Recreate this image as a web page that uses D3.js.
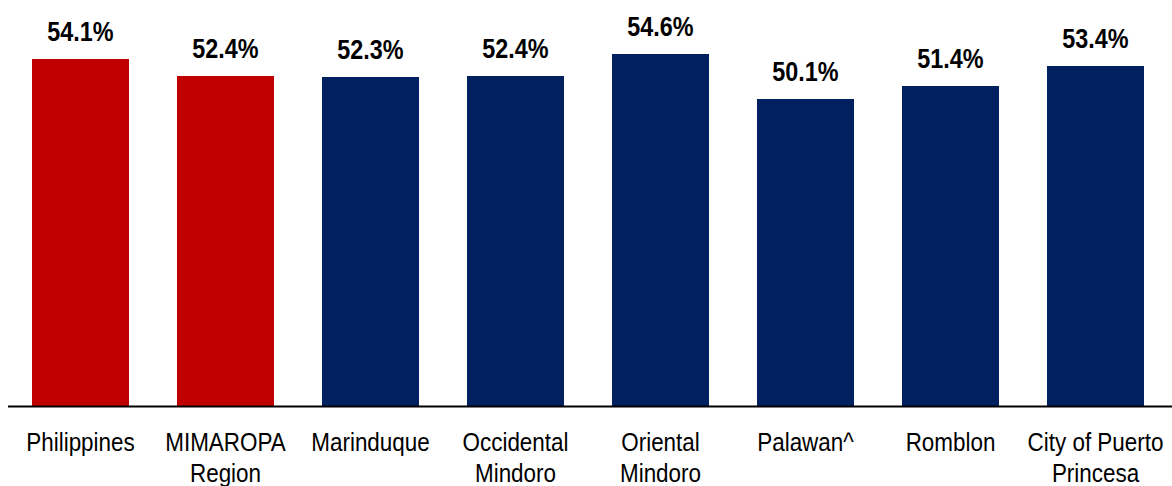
<!DOCTYPE html>
<html>
<head>
<meta charset="utf-8">
<script src="https://d3js.org/d3.v7.min.js"></script>
<style>
  body { margin: 0; background: #fff; }
  text { font-family: "Liberation Sans", Arial, sans-serif; fill: #000; }
</style>
</head>
<body>
<div id="chart"></div>
<script>
// data
var categories = ["Philippines", "MIMAROPA Region", "Marinduque", "Occidental Mindoro",
                  "Oriental Mindoro", "Palawan^", "Romblon", "City of Puerto Princesa"];
var labelLines = [["Philippines"], ["MIMAROPA", "Region"], ["Marinduque"], ["Occidental", "Mindoro"],
                  ["Oriental", "Mindoro"], ["Palawan^"], ["Romblon"], ["City of Puerto", "Princesa"]];
var values = [54.1, 52.4, 52.3, 52.4, 54.6, 50.1, 51.4, 53.4];
var highlighted = ["Philippines", "MIMAROPA Region"];

var width = 1172, height = 486;
var baseline = 406.5;

var svg = d3.select("#chart").append("svg")
    .attr("width", width)
    .attr("height", height);

var x = d3.scaleBand()
    .domain(categories)
    .range([8, 1168])
    .paddingInner(0.331)
    .paddingOuter(0.1655);

var y = d3.scaleLinear()
    .domain([19.35, 60])
    .range([baseline, 0]);

// bars
svg.selectAll("rect.bar")
  .data(values)
  .enter()
  .append("rect")
    .attr("class", "bar")
    .attr("x", function(d, i) { return x(categories[i]); })
    .attr("width", x.bandwidth())
    .attr("y", function(d) { return y(d); })
    .attr("height", function(d) { return baseline - y(d); })
    .attr("fill", function(d, i) { return highlighted.indexOf(categories[i]) >= 0 ? "#C00000" : "#002060"; });

// value labels
svg.selectAll("text.val")
  .data(values)
  .enter()
  .append("text")
    .attr("class", "val")
    .attr("text-anchor", "middle")
    .attr("font-weight", "bold")
    .attr("font-size", "27.5px")
    .attr("transform", function(d, i) {
      return "translate(" + (x(categories[i]) + x.bandwidth() / 2) + "," + (y(d) - 18) + ") scale(0.85,1)";
    })
    .text(function(d) { return d3.format(".1f")(d) + "%"; });

// x axis line
svg.append("line")
    .attr("x1", 8)
    .attr("x2", width)
    .attr("y1", baseline)
    .attr("y2", baseline)
    .attr("stroke", "#000")
    .attr("stroke-width", 2);

// category labels
var cat = svg.selectAll("text.cat")
  .data(categories)
  .enter()
  .append("text")
    .attr("class", "cat")
    .attr("text-anchor", "middle")
    .attr("font-size", "25.5px")
    .attr("transform", function(d) {
      return "translate(" + (x(d) + x.bandwidth() / 2) + "," + (baseline + 44.5) + ") scale(0.88,1)";
    });

cat.selectAll("tspan")
  .data(function(d, i) { return labelLines[i]; })
  .enter()
  .append("tspan")
    .attr("x", 0)
    .attr("dy", function(d, j) { return j === 0 ? 0 : 30.6; })
    .text(function(d) { return d; });
</script>
</body>
</html>
